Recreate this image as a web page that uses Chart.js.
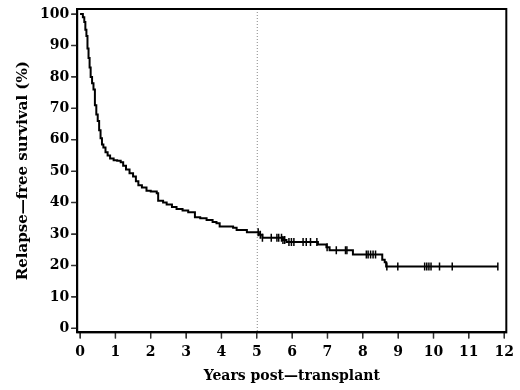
<!DOCTYPE html>
<html>
<head>
<meta charset="utf-8">
<script src="https://cdn.jsdelivr.net/npm/chart.js@4/dist/chart.umd.min.js"></script>
<style>
  html, body { margin: 0; padding: 0; background: #fff; }
  #wrap { width: 520px; height: 390px; }
</style>
</head>
<body>
<div id="wrap"><canvas id="km"></canvas></div>
<script>
// Kaplan-Meier step curve: time (years) of each drop, survival (%) after it
const kmTimes = [0, 0.08, 0.12, 0.15, 0.18, 0.21, 0.24, 0.27, 0.30, 0.34, 0.38, 0.42, 0.46, 0.50,
  0.54, 0.58, 0.62, 0.66, 0.72, 0.78, 0.85, 0.95, 1.05, 1.15, 1.22, 1.30, 1.40, 1.50, 1.58,
  1.65, 1.75, 1.88, 2.00, 2.17, 2.21, 2.35, 2.45, 2.60, 2.73, 2.90, 3.06, 3.25, 3.40, 3.58,
  3.75, 3.86, 3.95, 4.33, 4.43, 4.72, 5.06, 5.16, 5.74, 5.84, 6.73, 6.97, 7.06, 7.72, 8.55,
  8.62, 8.66, 11.82];
const kmSurv = [100, 99, 97.5, 95, 93, 89, 86, 83, 80, 78, 76, 71, 68, 66,
  63, 60.5, 58.5, 57.5, 56, 55, 54, 53.5, 53.3, 52.8, 51.7, 50.5, 49.3, 48.3, 46.8,
  45.5, 44.8, 43.8, 43.5, 43.0, 40.6, 40, 39.4, 38.6, 38, 37.5, 36.9, 35.3, 35, 34.5,
  33.8, 33.4, 32.4, 32, 31.3, 30.6, 29.8, 28.8, 28.1, 27.5, 26.7, 25.8, 24.8, 23.5, 21.8,
  21, 19.7, 19.7];
// censored observations (years)
const censorTimes = [5.04, 5.10, 5.16, 5.41, 5.57, 5.62, 5.70, 5.74, 5.79, 5.91, 5.98, 6.05,
  6.31, 6.40, 6.52, 6.70, 6.99, 7.25, 7.51, 7.55, 8.10, 8.15, 8.22, 8.29, 8.36, 8.68, 8.99,
  9.75, 9.81, 9.87, 9.93, 10.17, 10.53, 11.82];
const xTicks = [0, 1, 2, 3, 4, 5, 6, 7, 8, 9, 10, 11, 12];
const yTicks = [0, 10, 20, 30, 40, 50, 60, 70, 80, 90, 100];
const markerYear = 5;

const survivalAt = (t) => {
  let s = kmSurv[0];
  kmTimes.forEach((kt, i) => { if (kt <= t) s = kmSurv[i]; });
  return s;
};

const curve = kmTimes.map((t, i) => ({ x: t, y: kmSurv[i] }));
const censors = censorTimes.map(t => ({ x: t, y: survivalAt(t) }));

const TICK_LEN = 6;

const frame = {
  id: 'frame',
  beforeDatasetsDraw(chart) {
    const { ctx, chartArea: a, scales } = chart;
    const xm = scales.x.getPixelForValue(markerYear);
    ctx.save();
    ctx.strokeStyle = '#888';
    ctx.lineWidth = 1;
    ctx.setLineDash([1, 2]);
    ctx.beginPath();
    ctx.moveTo(xm + 0.5, a.top);
    ctx.lineTo(xm + 0.5, a.bottom);
    ctx.stroke();
    ctx.restore();
  },
  afterDraw(chart) {
    const { ctx, chartArea: a, scales } = chart;
    ctx.save();
    // outer tick marks
    ctx.strokeStyle = '#333';
    ctx.lineWidth = 1.5;
    ctx.beginPath();
    scales.x.ticks.forEach(t => {
      const px = scales.x.getPixelForValue(t.value);
      ctx.moveTo(px, a.bottom);
      ctx.lineTo(px, a.bottom + TICK_LEN);
    });
    scales.y.ticks.forEach(t => {
      const py = scales.y.getPixelForValue(t.value);
      ctx.moveTo(a.left, py);
      ctx.lineTo(a.left - TICK_LEN, py);
    });
    ctx.stroke();
    // box
    ctx.strokeStyle = '#000';
    ctx.lineWidth = 2;
    ctx.strokeRect(a.left, a.top, a.right - a.left, a.bottom - a.top);
    ctx.restore();
  }
};

const xTickFont = { family: '"DejaVu Serif", serif', size: 14, weight: 'bold' };
const yTickFont = { family: '"DejaVu Serif", serif', size: 14, weight: 'bold', lineHeight: 1 };
const xTitleFont = { family: '"DejaVu Serif", serif', size: 14, weight: 'bold' };
const yTitleFont = { family: '"DejaVu Serif", serif', size: 15, weight: 'bold' };

new Chart(document.getElementById('km'), {
  type: 'line',
  data: {
    datasets: [{
      data: curve,
      stepped: true,
      borderColor: '#000',
      borderWidth: 2,
      pointRadius: 0,
      fill: false
    }, {
      type: 'scatter',
      data: censors,
      pointStyle: 'line',
      rotation: 90,
      pointRadius: 4,
      borderColor: '#000',
      borderWidth: 1.5,
      backgroundColor: '#000'
    }]
  },
  options: {
    responsive: true,
    maintainAspectRatio: false,
    animation: false,
    layout: { padding: { top: 1, right: 13, left: 10, bottom: 5 } },
    plugins: { legend: { display: false }, tooltip: { enabled: false } },
    scales: {
      x: {
        type: 'linear',
        min: -0.08,
        max: 12.06,
        afterBuildTicks: (s) => { s.ticks = xTicks.map(v => ({ value: v })); },
        grid: { drawOnChartArea: false, tickLength: TICK_LEN, tickColor: '#333' },
        border: { color: '#000', width: 2 },
        ticks: { color: '#000', font: xTickFont, padding: 6, maxRotation: 0, autoSkip: false },
        title: { display: true, text: 'Years post\u2014transplant', color: '#000', font: xTitleFont, padding: { top: 1, bottom: 0 } }
      },
      y: {
        type: 'linear',
        min: -1.3,
        max: 101.6,
        afterBuildTicks: (s) => { s.ticks = yTicks.map(v => ({ value: v })); },
        grid: { drawOnChartArea: false, tickLength: TICK_LEN, tickColor: '#333' },
        border: { color: '#000', width: 2 },
        ticks: { color: '#000', font: yTickFont, padding: 2, autoSkip: false },
        title: { display: true, text: 'Relapse\u2014free survival (%)', color: '#000', font: yTitleFont, padding: { bottom: 6 } }
      }
    }
  },
  plugins: [frame]
});
</script>
</body>
</html>
